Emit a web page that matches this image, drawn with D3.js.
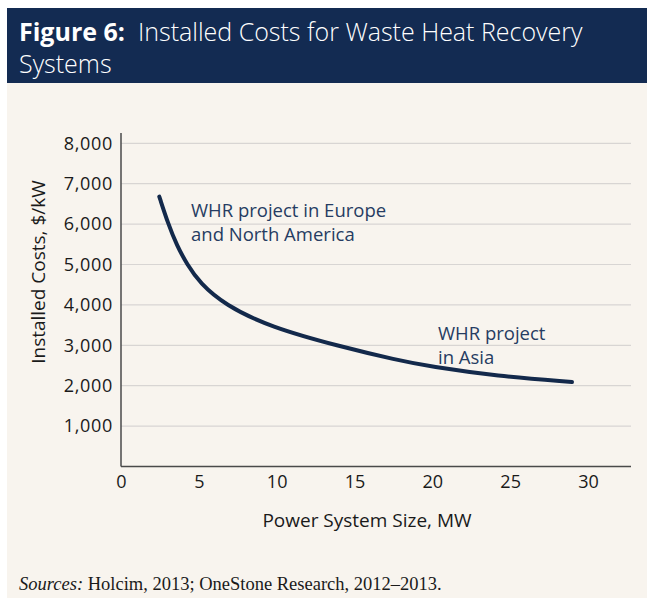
<!DOCTYPE html>
<html><head><meta charset="utf-8">
<script src="https://cdn.jsdelivr.net/npm/d3@7"></script>
<style>
html,body{margin:0;padding:0;background:#fff;}
svg{display:block;}
</style></head>
<body>
<script>
// Data
const sizesMW = [2.46, 3.04, 3.58, 4.24, 5.07, 6.68, 9.57, 14.07, 17.73, 19.85, 24.15, 28.97];
const costsPerKW = [6680, 5995, 5480, 5005, 4540, 4000, 3453, 2970, 2636, 2475, 2240, 2092];
const xTicks = [0, 5, 10, 15, 20, 25, 30];
const yTicks = [1000, 2000, 3000, 4000, 5000, 6000, 7000, 8000];
const titleBold = "Figure 6:";
const titleLine1 = "Installed Costs for Waste Heat Recovery";
const titleLine2 = "Systems";
const xTitle = "Power System Size, MW";
const yTitle = "Installed Costs, $/kW";
const noteEurope = ["WHR project in Europe", "and North America"];
const noteAsia = ["WHR project", "in Asia"];
const sourceItalic = "Sources:";
const sourceText = " Holcim, 2013; OneStone Research, 2012\u20132013.";

const W = 647, H = 598;
const svg = d3.select("body").append("svg").attr("width", W).attr("height", H);

// Background panels
svg.append("rect").attr("x", 7).attr("y", 8).attr("width", W - 7).attr("height", H - 8).attr("fill", "#f8f4ee");
svg.append("rect").attr("x", 7).attr("y", 8).attr("width", W - 7).attr("height", 75).attr("fill", "#132b52");

const sans = "'Open Sans', sans-serif";
const t1 = svg.append("text").attr("x", 19).attr("y", 41).attr("fill", "#fff")
  .style("font-family", sans).style("font-size", "25px");
t1.append("tspan").attr("font-weight", "bold").text(titleBold);
t1.append("tspan").attr("font-weight", "300").text("\u00a0 " + titleLine1);
svg.append("text").attr("x", 19).attr("y", 73).attr("fill", "#fff")
  .style("font-family", sans).style("font-size", "25px").attr("font-weight", "300")
  .text(titleLine2);

// Scales
const x = d3.scaleLinear().domain([0, 30]).range([121, 588]);
const y = d3.scaleLinear().domain([0, 8000]).range([466.5, 143.3]);
const xEnd = 631, yTop = 133;

const g = svg.append("g");
// gridlines
g.selectAll("line.grid").data(yTicks).join("line")
  .attr("x1", x(0)).attr("x2", xEnd)
  .attr("y1", d => y(d)).attr("y2", d => y(d))
  .attr("stroke", "#d8d5d3").attr("stroke-width", 1.2);

// axes
const yAxis = d3.axisLeft(y).tickValues(yTicks).tickSize(0).tickPadding(8)
  .tickFormat(d3.format(","));
const yg = g.append("g").attr("transform", `translate(${x(0)},0)`).call(yAxis);
yg.select(".domain").remove();
yg.selectAll("text").style("font-family", sans).style("font-size", "18px")
  .style("letter-spacing", "0.7px").attr("fill", "#1a1a1a");
g.append("line").attr("x1", x(0)).attr("x2", x(0)).attr("y1", yTop).attr("y2", y(0))
  .attr("stroke", "#4a4a4a").attr("stroke-width", 1.5);

const xAxis = d3.axisBottom(x).tickValues(xTicks).tickSize(0).tickPadding(9);
const xg = g.append("g").attr("transform", `translate(0,${y(0)})`).call(xAxis);
xg.select(".domain").remove();
xg.selectAll("text").style("font-family", sans).style("font-size", "18px").attr("fill", "#1a1a1a");
g.append("line").attr("x1", x(0)).attr("x2", xEnd).attr("y1", y(0)).attr("y2", y(0))
  .attr("stroke", "#4a4a4a").attr("stroke-width", 1.5);

// curve
const pts = sizesMW.map((s, i) => [s, costsPerKW[i]]);
g.append("path").datum(pts)
  .attr("d", d3.line().x(d => x(d[0])).y(d => y(d[1])).curve(d3.curveBasis))
  .attr("fill", "none").attr("stroke", "#13294b").attr("stroke-width", 4).attr("stroke-linecap", "round");

// annotations
function note(lines, px, py) {
  const t = g.append("text").attr("x", px).attr("y", py).attr("fill", "#263c62")
    .style("font-family", sans).style("font-size", "18.5px");
  lines.forEach((l, i) => t.append("tspan").attr("x", px).attr("dy", i ? 24 : 0).text(l));
}
note(noteEurope, 191, 217);
note(noteAsia, 438, 340);

// axis titles
svg.append("text").attr("x", 367).attr("y", 527).attr("text-anchor", "middle")
  .style("font-family", sans).style("font-size", "19px").attr("fill", "#1a1a1a").text(xTitle);
svg.append("text").attr("transform", "translate(45,272) rotate(-90)").attr("text-anchor", "middle")
  .style("font-family", sans).style("font-size", "19px").attr("fill", "#1a1a1a").text(yTitle);

// source
const s = svg.append("text").attr("x", 19).attr("y", 590)
  .style("font-family", "'Liberation Serif', serif").style("font-size", "18.5px").attr("fill", "#1a1a1a");
s.append("tspan").style("font-style", "italic").text(sourceItalic);
s.append("tspan").text(sourceText);
</script>
</body></html>
